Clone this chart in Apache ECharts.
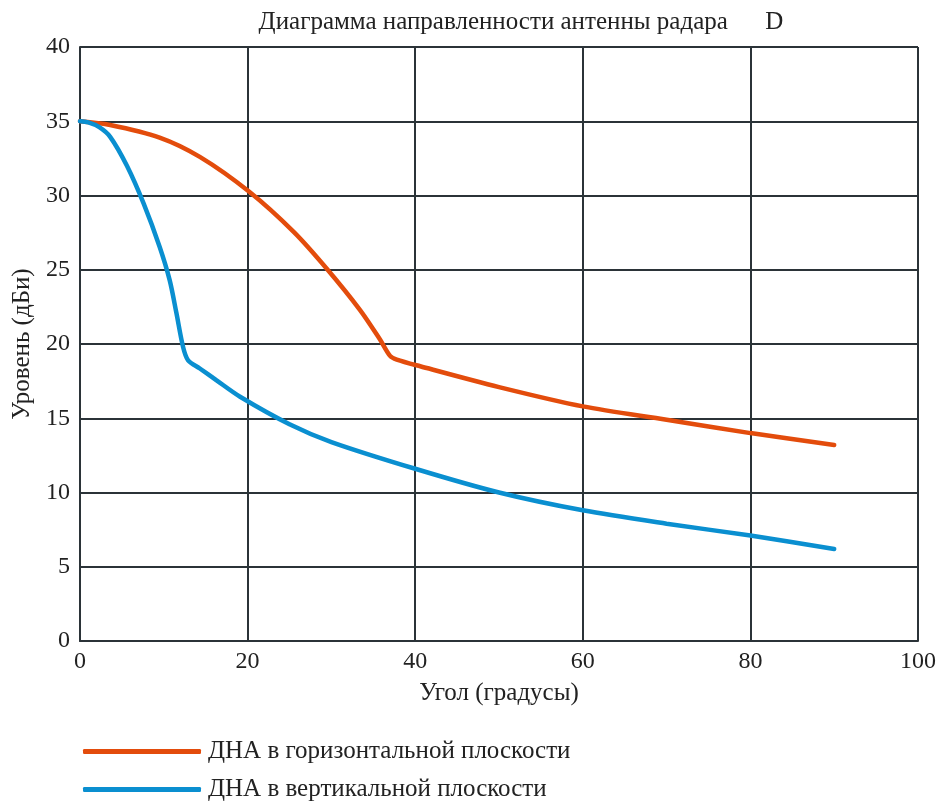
<!DOCTYPE html>
<html>
<head>
<meta charset="utf-8">
<script src="https://cdn.jsdelivr.net/npm/echarts@6/dist/echarts.min.js"></script>
<style>
  html, body { margin: 0; padding: 0; background: #fff; }
  #chart { width: 947px; height: 807px; }
</style>
</head>
<body>
<div id="chart"></div>
<script>
// угол (градусы) и уровень (дБи)
var horizAngles = [0, 3.6, 9.5, 14.3, 20.2, 25.5, 29.4, 33.4, 35.8, 37.0, 37.8, 40.6, 50, 60, 70, 80, 90];
var horizLevels = [35, 34.75, 33.9, 32.6, 30.25, 27.55, 25.1, 22.3, 20.3, 19.2, 18.95, 18.5, 17.1, 15.8, 14.9, 14.0, 13.2];

var vertAngles = [0, 1, 2.3, 3.6, 5.6, 7.6, 9.5, 10.7, 11.5, 12.3, 12.9, 14.3, 16.3, 19.1, 25, 30, 40, 50, 60, 70, 80, 90];
var vertLevels = [35, 34.92, 34.6, 33.95, 32.0, 29.45, 26.55, 24.3, 22.1, 19.8, 18.9, 18.35, 17.55, 16.45, 14.6, 13.4, 11.6, 10.0, 8.8, 7.9, 7.1, 6.2];

var seriesNames = ['ДНА в горизонтальной плоскости', 'ДНА в вертикальной плоскости'];
var seriesColors = ['#e34c0c', '#0a8fd0'];

function pairs(xs, ys) {
    var out = [];
    for (var i = 0; i < xs.length; i++) {
        out.push([xs[i], ys[i]]);
    }
    return out;
}

var font = 'Liberation Serif, DejaVu Serif, serif';
var gridColor = '#2b3338';

var chart = echarts.init(document.getElementById('chart'));
var option = {
    animation: false,
    title: {
        text: 'Диаграмма направленности антенны радара      D',
        left: 516,
        textAlign: 'center',
        top: 5,
        textStyle: { fontFamily: font, fontSize: 25, fontWeight: 'normal', color: '#222' }
    },
    legend: {
        orient: 'vertical',
        left: 78,
        top: 734,
        itemWidth: 118,
        itemHeight: 5,
        itemGap: 13,
        icon: 'roundRect',
        data: seriesNames,
        textStyle: { fontFamily: font, fontSize: 25, color: '#222', padding: [0, 0, 0, 2] }
    },
    grid: { left: 80, right: 29, top: 47, bottom: 166, outerBoundsMode: 'none' },
    xAxis: {
        type: 'value',
        min: 0, max: 100, interval: 20,
        name: 'Угол (градусы)',
        nameLocation: 'middle',
        nameGap: 40,
        nameTextStyle: { fontFamily: font, fontSize: 25, color: '#222' },
        axisLine: { lineStyle: { color: gridColor, width: 2 } },
        axisTick: { show: false },
        axisLabel: { fontFamily: font, fontSize: 24, color: '#222', margin: 9 },
        splitLine: { show: true, lineStyle: { color: gridColor, width: 2 } }
    },
    yAxis: {
        type: 'value',
        min: 0, max: 40, interval: 5,
        name: 'Уровень (дБи)',
        nameLocation: 'middle',
        nameGap: 45,
        nameTextStyle: { fontFamily: font, fontSize: 25, color: '#222' },
        axisLine: { show: true, lineStyle: { color: gridColor, width: 2 } },
        axisTick: { show: false },
        axisLabel: { fontFamily: font, fontSize: 24, color: '#222', margin: 10 },
        splitLine: { show: true, lineStyle: { color: gridColor, width: 2 } }
    },
    series: [
        {
            name: seriesNames[0],
            type: 'line',
            data: pairs(horizAngles, horizLevels),
            smooth: 0.3,
            showSymbol: false,
            lineStyle: { width: 4.5, color: seriesColors[0], cap: 'round' },
            itemStyle: { color: seriesColors[0] }
        },
        {
            name: seriesNames[1],
            type: 'line',
            data: pairs(vertAngles, vertLevels),
            smooth: 0.3,
            showSymbol: false,
            lineStyle: { width: 4.5, color: seriesColors[1], cap: 'round' },
            itemStyle: { color: seriesColors[1] }
        }
    ]
};
chart.setOption(option);
</script>
</body>
</html>
